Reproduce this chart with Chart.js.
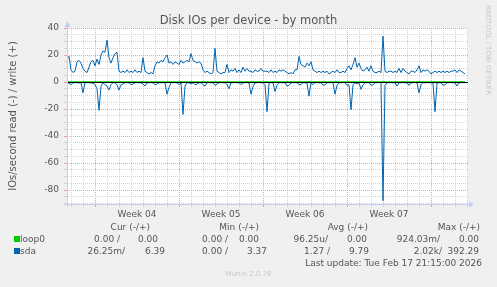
<!DOCTYPE html>
<html>
<head>
<meta charset="utf-8">
<title>Disk IOs per device - by month</title>
<script src="https://cdn.jsdelivr.net/npm/chart.js"></script>
<style>
  body { margin: 0; background: #f0f0f0; }
  #box { position: relative; width: 497px; height: 287px; font-family: "DejaVu Sans", sans-serif; color: #555; }
  #box canvas { position: absolute; left: 0; top: 0; }
  #title { position: absolute; left: 0; width: 497px; top: 13px; text-align: center; font-size: 11.5px; line-height: 14px; white-space: nowrap; }
  .t { position: absolute; font-size: 9px; line-height: 12px; white-space: nowrap; }
  .sw { position: absolute; width: 6px; height: 6px; }
  #rrd { position: absolute; left: 483px; top: 5px; writing-mode: vertical-rl; font-size: 7px; line-height: 9px; color: #c8c8c8; }
  #ver { position: absolute; left: 0; width: 497px; top: 270px; text-align: center; font-size: 7px; line-height: 9px; color: #c8c8c8; }
</style>
</head>
<body>
<div id="box">
  <canvas id="chart" width="497" height="287"></canvas>
  <div id="title">Disk IOs per device - by month</div>
  <div id="legend"></div>
  <div id="rrd">RRDTOOL / TOBI OETIKER</div>
  <div id="ver">Munin 2.0.76</div>
</div>
<script>
const weekLabels = ['Week 04', 'Week 05', 'Week 06', 'Week 07'];
const yLabels = [40, 20, 0, -20, -40, -60, -80];

// sda, one sample every 4 hours
const writeVals = [
  17, 19, 9, 7, 8, 15, 16, 14, 10, 8,
  7, 11, 15, 16, 12, 17, 13, 20, 23, 22,
  31, 18, 14, 18, 21, 22, 8, 7, 8, 7,
  9, 7, 8, 7, 9, 7, 8, 7, 18, 8,
  7, 6, 7, 6, 12, 15, 14, 16, 15, 18,
  20, 14, 15, 13, 15, 14, 13, 16, 14, 15,
  16, 15, 21, 16, 15, 14, 15, 14, 9, 7,
  8, 7, 6, 7, 25, 8, 7, 6, 7, 7,
  13, 7, 9, 8, 10, 7, 9, 7, 11, 8,
  10, 8, 8, 7, 9, 8, 8, 10, 8, 8,
  8, 7, 9, 7, 8, 7, 9, 8, 9, 8,
  7, 6, 7, 6, 9, 9, 19, 13, 12, 11,
  14, 12, 15, 9, 8, 7, 8, 7, 8, 7,
  8, 6, 7, 8, 7, 9, 7, 7, 8, 7,
  10, 12, 9, 13, 18, 11, 14, 10, 8, 9,
  11, 8, 12, 8, 7, 7, 8, 7, 34, 8,
  7, 8, 8, 7, 8, 7, 10, 7, 10, 8,
  7, 6, 8, 8, 7, 9, 12, 7, 9, 8,
  9, 8, 6, 7, 8, 7, 8, 7, 8, 7,
  8, 7, 8, 8, 9, 7, 9, 8, 7, 6
];
const readVals = [
  0.5, 0.8, 2, 0.6, 0.4, 0.5, 0.7, 0.5, 8, 0.6,
  0.4, 0.5, 0.6, 0.8, 2, 5, 21, 3, 0.6, 2,
  3, 6, 2, 0.5, 0.6, 2, 6, 2, 1.5, 0.5,
  0.4, 0.6, 2, 1.5, 0.5, 0.4, 0.6, 0.5, 1.5, 3,
  0.6, 0.5, 0.4, 0.6, 2, 1.5, 0.5, 0.6, 0.4, 0.8,
  9, 4, 0.6, 0.5, 0.4, 0.6, 2, 0.8, 24, 3,
  0.5, 0.6, 1.5, 0.5, 2, 1.5, 0.6, 0.5, 2, 3,
  0.6, 0.4, 0.5, 0.6, 2.5, 1.5, 0.5, 0.4, 0.6, 0.5,
  2, 5, 0.6, 0.5, 0.4, 0.6, 0.5, 2, 0.6, 0.5,
  0.4, 0.8, 9, 3.5, 0.6, 0.5, 0.4, 0.6, 0.5, 2,
  22, 0.8, 0.5, 0.6, 7, 2.5, 0.5, 0.4, 0.6, 0.5,
  3, 2.5, 0.6, 0.5, 0.4, 0.6, 2, 2, 0.5, 0.6,
  0.8, 10.5, 0.6, 2, 0.5, 0.4, 0.6, 0.5, 2.5, 2,
  0.6, 0.5, 0.4, 0.6, 9, 2.5, 0.5, 0.6, 0.4, 0.5,
  2.5, 2, 20.5, 2, 0.6, 1.5, 0.5, 5.5, 2, 0.6,
  0.5, 0.4, 2.5, 2, 0.6, 0.5, 0.4, 0.6, 88, 2.5,
  0.6, 0.5, 0.4, 0.6, 0.5, 3, 0.6, 0.5, 0.4, 0.6,
  0.5, 2.5, 0.6, 0.5, 0.4, 0.6, 8, 2, 0.5, 0.6,
  0.4, 0.5, 0.6, 0.5, 22, 0.8, 0.5, 0.6, 2.5, 2,
  0.6, 0.5, 0.4, 0.6, 0.5, 3, 0.6, 0.5, 0.4, 0.5
];
// loop0 stays flat at zero for the whole month
const loop0Write = [0, 0];
const loop0Read = [0, 0];

const seriesNames = ['loop0', 'sda'];
const seriesColors = ['#00cc00', '#0066b3'];
const statHeads = ['Cur (-/+)', 'Min (-/+)', 'Avg (-/+)', 'Max (-/+)'];
const loop0Stats = ['0.00 /', '0.00', '0.00 /', '0.00', '96.25u/', '0.00', '924.03m/', '0.00'];
const sdaStats = ['26.25m/', '6.39', '0.00 /', '3.37', '1.27 /', '9.79', '2.02k/', '392.29'];
const lastUpdate = 'Last update: Tue Feb 17 21:15:00 2026';

// x runs in days, 0 = first red week line
const firstDay = -7 / 3;
const lastDay = 31 + 1 / 12;
const step = 1 / 6;
const yMin = -90.37, yMax = 40;

const minorGrid = '#d2d2d2';
const majorGrid = '#e4a2a2';
const axisColor = '#c4ccf8';

const times = writeVals.map((v, i) => firstDay + i * step);
const loopTimes = [times[0], times[times.length - 1]];

function gridColor(v, major) {
  if (Math.abs(v - Math.round(v)) > 1e-9) return 'rgba(0,0,0,0)';
  return v % major === 0 ? majorGrid : minorGrid;
}

function weekLabel(v) {
  const k = (v - 3.5) / 7;
  return Number.isInteger(k) && weekLabels[k] ? weekLabels[k] : '';
}

const frame = {
  id: 'frame',
  beforeDraw(chart) {
    const { ctx, chartArea: a } = chart;
    ctx.save();
    ctx.fillStyle = '#fff';
    ctx.fillRect(a.left, a.top, a.right - a.left, a.bottom - a.top);
    ctx.restore();
  },
  afterDatasetsDraw(chart) {
    const { ctx, chartArea: a } = chart;
    const y0 = Math.round(chart.scales.y.getPixelForValue(0)) + 0.5;
    ctx.save();
    ctx.strokeStyle = '#000';
    ctx.lineWidth = 1;
    ctx.beginPath();
    ctx.moveTo(a.left, y0);
    ctx.lineTo(a.right, y0);
    ctx.stroke();
    ctx.restore();
  },
  afterDraw(chart) {
    const { ctx, chartArea: a } = chart;
    const xb = a.bottom + 0.5, yl = a.left + 0.5;
    ctx.save();
    ctx.strokeStyle = axisColor;
    ctx.fillStyle = axisColor;
    ctx.lineWidth = 1;
    ctx.beginPath();
    ctx.moveTo(a.left - 3, xb);
    ctx.lineTo(a.right + 1, xb);
    ctx.moveTo(yl, a.bottom + 3);
    ctx.lineTo(yl, a.top - 1);
    ctx.stroke();
    ctx.beginPath();
    ctx.moveTo(a.right + 6, xb);
    ctx.lineTo(a.right + 1, xb - 3);
    ctx.lineTo(a.right + 1, xb + 3);
    ctx.closePath();
    ctx.fill();
    ctx.beginPath();
    ctx.moveTo(yl, a.top - 7);
    ctx.lineTo(yl - 3, a.top - 1);
    ctx.lineTo(yl + 3, a.top - 1);
    ctx.closePath();
    ctx.fill();
    ctx.restore();
  }
};

Chart.defaults.font.family = 'DejaVu Sans';
Chart.defaults.color = '#555';

new Chart(document.getElementById('chart'), {
  type: 'line',
  data: {
    datasets: [
      { label: 'loop0', data: loop0Read.map((v, i) => ({ x: loopTimes[i], y: -v })), borderColor: seriesColors[0] },
      { label: 'loop0', data: loop0Write.map((v, i) => ({ x: loopTimes[i], y: v })), borderColor: seriesColors[0] },
      { label: 'sda', data: readVals.map((v, i) => ({ x: times[i], y: -v })), borderColor: seriesColors[1] },
      { label: 'sda', data: writeVals.map((v, i) => ({ x: times[i], y: v })), borderColor: seriesColors[1] }
    ]
  },
  options: {
    responsive: false,
    animation: false,
    devicePixelRatio: 1,
    layout: { padding: { left: 0, right: 29, top: 28, bottom: 0 } },
    elements: { point: { radius: 0 }, line: { borderWidth: 1, tension: 0 } },
    plugins: {
      legend: { display: false },
      tooltip: { enabled: false },
      title: { display: false }
    },
    scales: {
      x: {
        type: 'linear',
        min: firstDay,
        max: lastDay,
        afterBuildTicks: s => {
          s.ticks = [];
          for (let d = -2; d <= 31; d += 0.5) s.ticks.push({ value: d });
        },
        afterFit: s => { s.height = 83; },
        grid: {
          color: c => gridColor(c.tick.value, 7),
          tickColor: c => gridColor(c.tick.value, 7),
          tickLength: 3
        },
        border: { display: false, dash: [1, 1] },
        ticks: { autoSkip: false, maxRotation: 0, minRotation: 0, padding: 2, font: { size: 9 }, callback: v => weekLabel(v) }
      },
      y: {
        min: yMin,
        max: yMax,
        afterBuildTicks: s => {
          s.ticks = [];
          for (let v = -90; v <= 40; v += 5) s.ticks.push({ value: v });
        },
        afterFit: s => { s.width = 67; },
        grid: {
          color: c => gridColor(c.tick.value, 20),
          tickColor: c => gridColor(c.tick.value, 20),
          tickLength: 3
        },
        border: { display: false, dash: [1, 1] },
        ticks: { autoSkip: false, padding: 5, font: { size: 9 }, callback: v => yLabels.includes(v) ? String(v) : '' },
        title: { display: true, text: 'IOs/second read (-) / write (+)', font: { size: 10 }, padding: { top: 7, bottom: 0 } }
      }
    }
  },
  plugins: [frame]
});

// legend table under the plot
const headRight = [150, 259, 368, 480];
const cellRight = [
  [120, 158, 228, 259, 328, 367, 440, 479],
  [125, 165, 228, 267, 330, 369, 442, 479]
];
const legend = document.getElementById('legend');

function put(text, right, top) {
  const s = document.createElement('span');
  s.className = 't';
  s.textContent = text;
  s.style.right = (497 - right) + 'px';
  s.style.top = top + 'px';
  legend.appendChild(s);
}

statHeads.forEach((h, i) => put(h, headRight[i], 221));
[loop0Stats, sdaStats].forEach((row, r) => {
  const top = 233 + r * 12;
  const sw = document.createElement('div');
  sw.className = 'sw';
  sw.style.left = '14px';
  sw.style.top = (top + 3) + 'px';
  sw.style.background = seriesColors[r];
  legend.appendChild(sw);
  const name = document.createElement('span');
  name.className = 't';
  name.textContent = seriesNames[r];
  name.style.left = '20px';
  name.style.top = top + 'px';
  legend.appendChild(name);
  row.forEach((txt, c) => put(txt, cellRight[r][c], top));
});
put(lastUpdate, 482, 257);
</script>
</body>
</html>
